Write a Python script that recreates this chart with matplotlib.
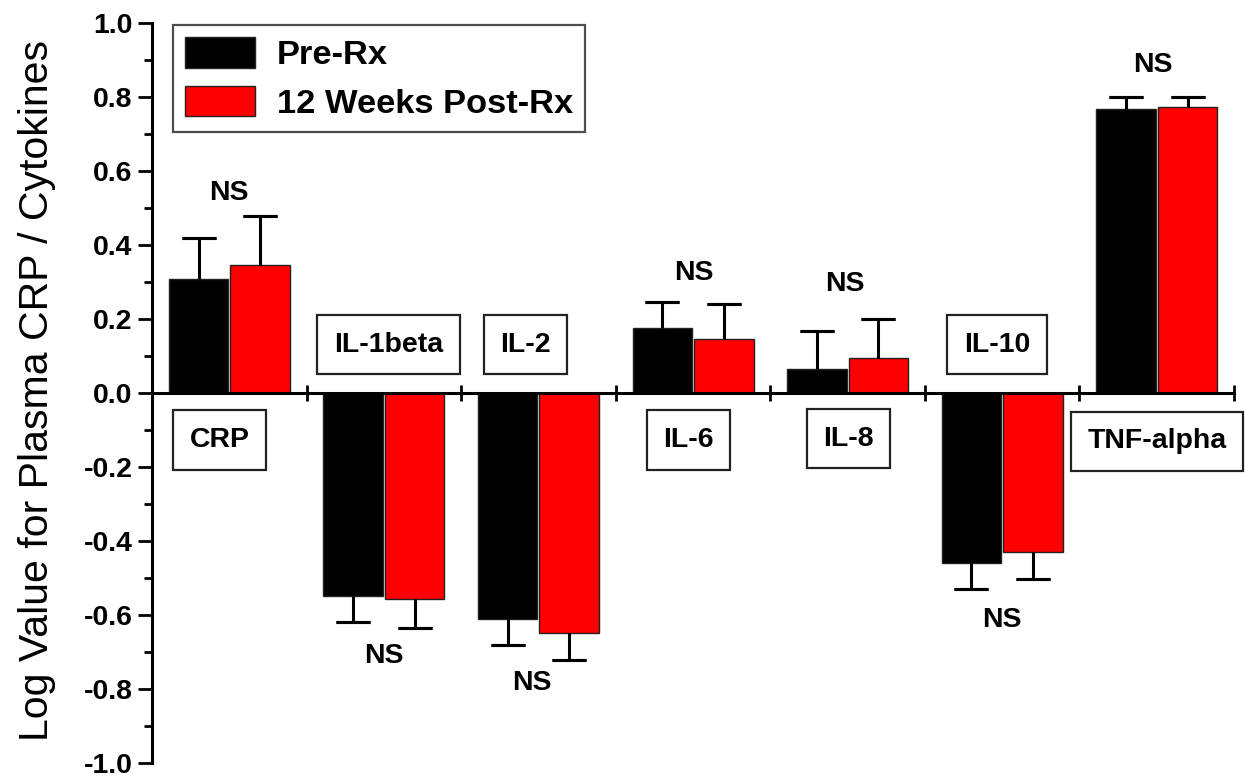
import matplotlib
matplotlib.use('Agg')
import matplotlib.pyplot as plt
from matplotlib.patches import Patch
from matplotlib.ticker import MultipleLocator, FormatStrFormatter
import numpy as np

# ---- data ----
categories = ["CRP", "IL-1beta", "IL-2", "IL-6", "IL-8", "IL-10", "TNF-alpha"]
series_labels = ["Pre-Rx", "12 Weeks Post-Rx"]
pre_rx = [0.308, -0.548, -0.610, 0.176, 0.064, -0.459, 0.768]
pre_rx_err = [0.112, 0.071, 0.072, 0.071, 0.104, 0.071, 0.032]
post_rx = [0.346, -0.557, -0.649, 0.147, 0.095, -0.430, 0.774]
post_rx_err = [0.132, 0.077, 0.073, 0.093, 0.105, 0.072, 0.026]
sig_labels = ["NS", "NS", "NS", "NS", "NS", "NS", "NS"]
ylabel = "Log Value for Plasma CRP / Cytokines"

# ---- layout (not data) ----
cat_box_pos = [(0.437, -0.127), (1.53, 0.131), (2.416, 0.131), (3.47, -0.127),
               (4.505, -0.123), (5.466, 0.131), (6.50, -0.13)]
sig_pos = [(0.50, 0.54), (1.50, -0.71), (2.46, -0.784), (3.505, 0.325),
           (4.48, 0.295), (5.50, -0.614), (6.475, 0.886)]

plt.rcParams['font.family'] = ['Liberation Sans', 'DejaVu Sans']
plt.rcParams['axes.unicode_minus'] = False

fig = plt.figure(figsize=(12.45, 7.79), dpi=100)
ax = fig.add_axes([0.1221, 0.0205, 0.8691, 0.95])

x = np.arange(len(categories)) + 0.5
w = 0.385
off = 0.199
colors = ['#000000', '#FF0000']

for vals, errs, c, dx in [(pre_rx, pre_rx_err, colors[0], -off),
                          (post_rx, post_rx_err, colors[1], off)]:
    vals = np.array(vals)
    errs = np.array(errs)
    xs = x + dx
    ax.bar(xs, vals, width=w, color=c, edgecolor='#222222', linewidth=1.0, zorder=2)
    tips = vals + np.sign(vals) * errs
    ax.vlines(xs, vals, tips, colors='black', linewidth=2.2, zorder=3)
    ax.errorbar(xs, tips, yerr=np.zeros_like(tips), fmt='none', ecolor='black',
                elinewidth=0, capsize=12, capthick=2.2, zorder=3)

ax.set_xlim(0, 7)
ax.set_ylim(-1.0, 1.0)

for s in ['top', 'right']:
    ax.spines[s].set_visible(False)
ax.spines['bottom'].set_position(('data', 0))
ax.spines['bottom'].set_linewidth(2.2)
ax.spines['left'].set_linewidth(2.2)
ax.spines['bottom'].set_zorder(4)

ax.set_xticks(np.arange(1, 8))
ax.set_xticklabels([])
ax.tick_params(axis='x', direction='inout', length=11.5, width=2.0)

ax.yaxis.set_major_locator(MultipleLocator(0.2))
ax.yaxis.set_minor_locator(MultipleLocator(0.1))
ax.yaxis.set_major_formatter(FormatStrFormatter('%.1f'))
ax.tick_params(axis='y', which='major', direction='out', length=10, width=2.0,
               labelsize=20.5, pad=4)
ax.tick_params(axis='y', which='minor', direction='out', length=6, width=2.0)
for lab in ax.get_yticklabels():
    lab.set_fontweight('bold')

ax.set_ylabel(ylabel, fontsize=29.5)
ax.yaxis.set_label_coords(-0.089, 0.504)

for name, (bx, by) in zip(categories, cat_box_pos):
    ax.text(bx, by, name, ha='center', va='center', fontsize=20.5, fontweight='bold',
            bbox=dict(boxstyle='square,pad=0.58', facecolor='white',
                      edgecolor='#222222', linewidth=1.6), zorder=5, clip_on=False)

for lab, (sx, sy) in zip(sig_labels, sig_pos):
    ax.text(sx, sy, lab, ha='center', va='center', fontsize=20.5, fontweight='bold', zorder=5)

handles = [Patch(facecolor=colors[0], edgecolor='#222222', linewidth=1.0),
           Patch(facecolor=colors[1], edgecolor='#222222', linewidth=1.0)]
leg = ax.legend(handles, series_labels, loc='upper left', bbox_to_anchor=(0.0194, 0.997),
                borderaxespad=0, frameon=True, fancybox=False, shadow=False,
                prop={'size': 24.8, 'weight': 'bold'}, handlelength=2.05, handleheight=1.0,
                labelspacing=0.42, borderpad=0.34, handletextpad=0.62)
leg.get_frame().set_edgecolor('#222222')
leg.get_frame().set_linewidth(1.6)

fig.savefig('out.png', dpi=100)
